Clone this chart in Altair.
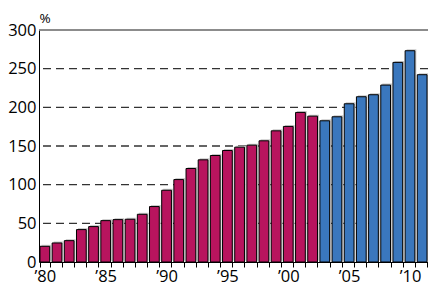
import altair as alt
import pandas as pd

years = list(range(1980, 2012))
values = [20.3, 24.6, 27.6, 41.9, 45.8, 53.5, 54.8, 55.3, 61.7, 71.7,
          92.8, 106.6, 120.9, 132.1, 137.7, 144.2, 148.5, 151.1, 156.7, 169.6,
          175.3, 193.4, 188.6, 182.6, 187.8, 204.6, 213.7, 216.3, 228.8, 258.1,
          273.2, 242.2]
groups = ["A"] * 23 + ["B"] * 9
grid_levels = [50, 100, 150, 200, 250]
top_level = [300]
y_ticks = [0, 50, 100, 150, 200, 250, 300]

df = pd.DataFrame({"year": years, "value": values, "group": groups})
grid_df = pd.DataFrame({"level": grid_levels})
top_df = pd.DataFrame({"level": top_level})

FONT = "Open Sans"

x_axis = alt.Axis(labelExpr="datum.value % 5 == 0 ? '\u2019' + slice(toString(datum.value), 2) : ''",
                  labelAngle=0, tickBand="extent", tickSize=5, tickColor="black",
                  domainColor="black", labelFont=FONT, labelFontSize=16.5,
                  labelColor="black", labelPadding=1, labelFlush=False,
                  labelOverlap=False)
xscale = alt.Scale(paddingInner=0.2, paddingOuter=0.08)
yscale = alt.Scale(domain=[0, 300])

y_axis = alt.Axis(values=y_ticks, grid=False, ticks=False, labelOverlap=False,
                  domainColor="black", labelFont=FONT, labelFontSize=16.5,
                  labelColor="black", labelPadding=3,
                  titleAngle=0, titleAlign="left", titleX=0, titleY=-8,
                  titleBaseline="alphabetic", titleFont=FONT, titleFontSize=13.5,
                  titleFontWeight="normal", titleColor="black")

base = alt.Chart(df)

grid = alt.Chart(grid_df).mark_rule(color="#333", strokeDash=[8, 5], strokeWidth=1.3).encode(
    y=alt.Y("level:Q", scale=yscale, title="%", axis=y_axis))
top = alt.Chart(top_df).mark_rule(color="#666", strokeWidth=1.3).encode(
    y=alt.Y("level:Q", scale=yscale, title="%", axis=y_axis))

shadow = base.mark_bar(color="#c8c8c8", xOffset=1.5, yOffset=-1.5).encode(
    x=alt.X("year:O", title=None, scale=xscale, axis=x_axis),
    y=alt.Y("value:Q", scale=yscale, title="%", axis=y_axis))

bars = base.mark_bar(stroke="black", strokeWidth=1).encode(
    x=alt.X("year:O", title=None, scale=xscale, axis=x_axis),
    y=alt.Y("value:Q", scale=yscale, title="%", axis=y_axis),
    color=alt.Color("group:N", legend=None,
                    scale=alt.Scale(domain=["A", "B"], range=["#B8145E", "#3A77BD"])))

chart = alt.layer(grid, top, shadow, bars).properties(
    width=389, height=232,
    autosize=alt.AutoSizeParams(type="none"),
    padding={"left": 31, "top": 22, "right": 0, "bottom": 23},
).configure_view(stroke=None)

chart.save("out.html", embed_options={"renderer": "svg", "actions": False})
